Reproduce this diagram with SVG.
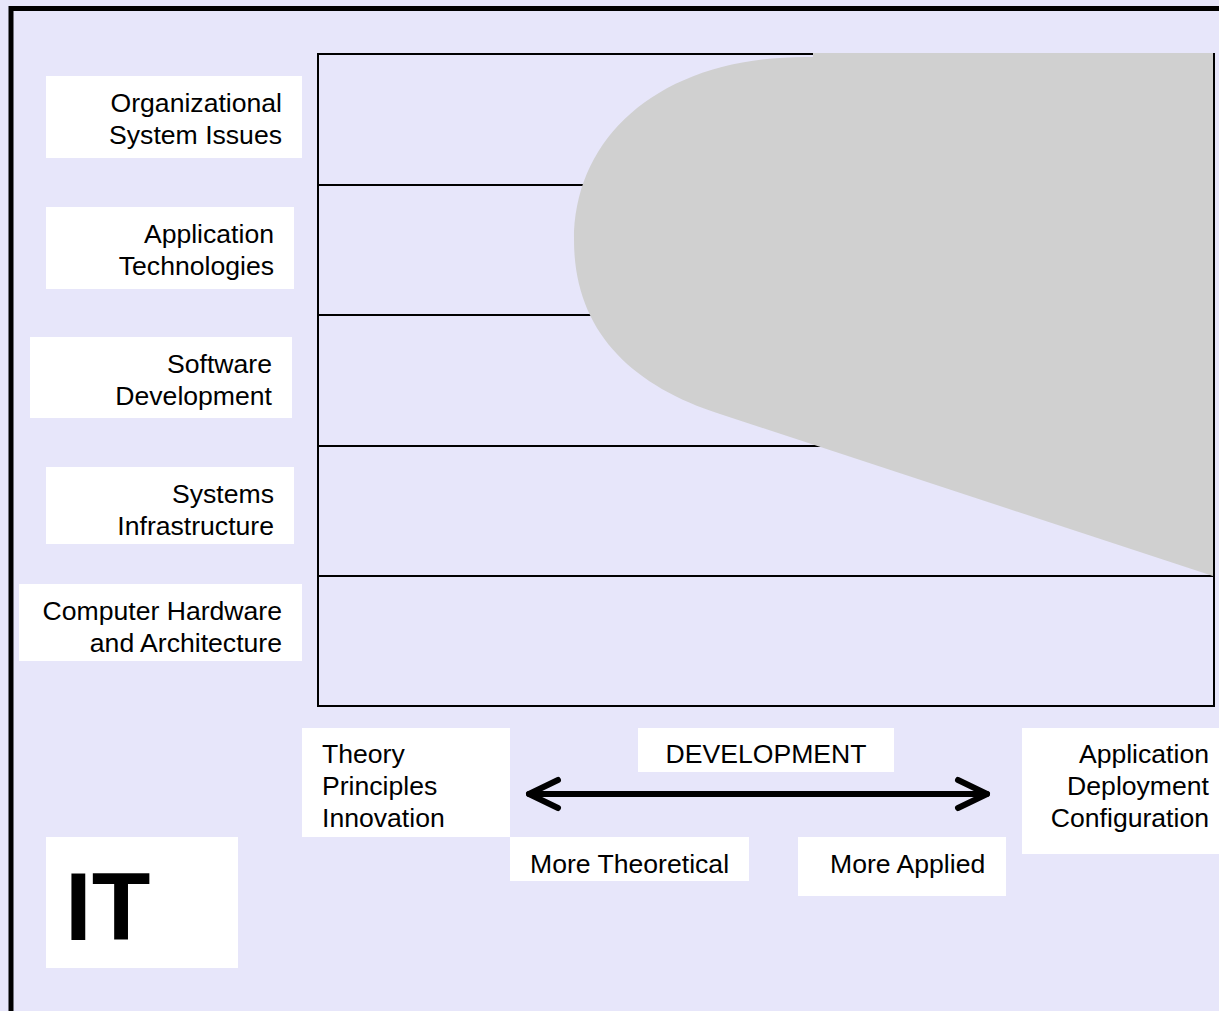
<svg xmlns="http://www.w3.org/2000/svg" width="1219" height="1011" viewBox="0 0 1219 1011">
  <style>
    .lbl { fill: #ffffff; }
    .t { font-family: "Liberation Sans", Arial, sans-serif; font-size: 26.6px; fill: #000000; }
    .r { text-anchor: end; }
    .grid { fill: none; stroke: #000000; stroke-width: 2; }
    .arrow { fill: none; stroke: #000000; stroke-width: 6; stroke-linecap: round; stroke-linejoin: round; }
  </style>

  <!-- background and frame -->
  <rect x="0" y="0" width="1219" height="1011" fill="#E7E6FA"/>
  <path d="M 11 1020 L 11 8.5 L 1230 8.5" fill="none" stroke="#000000" stroke-width="5"/>

  <!-- layered grid -->
  <g id="grid">
    <rect class="grid" x="318" y="54" width="896" height="652"/>
    <line class="grid" x1="318" y1="185" x2="1214" y2="185"/>
    <line class="grid" x1="318" y1="315" x2="1214" y2="315"/>
    <line class="grid" x1="318" y1="446" x2="1214" y2="446"/>
    <line class="grid" x1="318" y1="576" x2="1214" y2="576"/>
  </g>

  <!-- coverage area of the discipline -->
  <g id="coverage">
    <path d="M 813 53 L 1213 53 L 1213 576 L 720 414 C 630 385, 574 330, 574 240 C 574 135, 662 57, 805 57 L 813 57 Z" fill="#D0D0D0"/>
    <line x1="1214" y1="54" x2="1214" y2="577" stroke="#000000" stroke-width="2"/>
  </g>

  <!-- layer labels -->
  <g id="org">
    <rect class="lbl" x="46" y="76" width="256" height="82"/>
    <text class="t r" x="282" y="112">Organizational</text>
    <text class="t r" x="282" y="144">System Issues</text>
  </g>
  <g id="apptech">
    <rect class="lbl" x="46" y="207" width="248" height="82"/>
    <text class="t r" x="274" y="243">Application</text>
    <text class="t r" x="274" y="275">Technologies</text>
  </g>
  <g id="software">
    <rect class="lbl" x="30" y="337" width="262" height="81"/>
    <text class="t r" x="272" y="373">Software</text>
    <text class="t r" x="272" y="405">Development</text>
  </g>
  <g id="infra">
    <rect class="lbl" x="46" y="467" width="248" height="77"/>
    <text class="t r" x="274" y="503">Systems</text>
    <text class="t r" x="274" y="535">Infrastructure</text>
  </g>
  <g id="hardware">
    <rect class="lbl" x="19" y="584" width="283" height="77"/>
    <text class="t r" x="282" y="620">Computer Hardware</text>
    <text class="t r" x="282" y="652">and Architecture</text>
  </g>

  <!-- axis labels -->
  <g id="theory">
    <rect class="lbl" x="302" y="728" width="208" height="109"/>
    <text class="t" x="322" y="763">Theory</text>
    <text class="t" x="322" y="795">Principles</text>
    <text class="t" x="322" y="827">Innovation</text>
  </g>
  <g id="development">
    <rect class="lbl" x="638" y="728" width="256" height="44"/>
    <text class="t" x="766" y="763" text-anchor="middle">DEVELOPMENT</text>
  </g>
  <g id="applied-end">
    <rect class="lbl" x="1022" y="728" width="197" height="126"/>
    <text class="t r" x="1209" y="763">Application</text>
    <text class="t r" x="1209" y="795">Deployment</text>
    <text class="t r" x="1209" y="827">Configuration</text>
  </g>
  <g id="more-theoretical">
    <rect class="lbl" x="510" y="837" width="239" height="44"/>
    <text class="t" x="530" y="873">More Theoretical</text>
  </g>
  <g id="more-applied">
    <rect class="lbl" x="798" y="837" width="208" height="59"/>
    <text class="t" x="830" y="873">More Applied</text>
  </g>
  <g id="it">
    <rect class="lbl" x="46" y="837" width="192" height="131"/>
    <text x="65" y="940" font-family="Liberation Sans, Arial, sans-serif" font-size="96" font-weight="bold">IT</text>
  </g>

  <!-- double-headed axis arrow -->
  <g id="connectors">
    <line class="arrow" x1="529" y1="794" x2="987" y2="794"/>
    <polyline class="arrow" points="558,780 529,794 558,808"/>
    <polyline class="arrow" points="958,780 987,794 958,808"/>
  </g>
</svg>
